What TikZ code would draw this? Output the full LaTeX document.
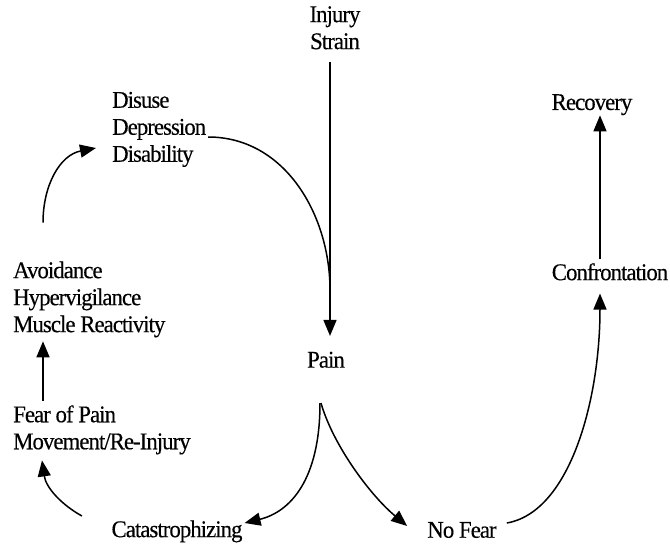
\documentclass[tikz,border=0pt]{standalone}
\usepackage{fontspec}
\setmainfont{Liberation Serif}[FakeStretch=0.95,LetterSpace=-4,FakeBold=0.3]
\usetikzlibrary{arrows.meta}

\begin{document}
\begin{tikzpicture}[x=1pt,y=-1pt,
  lbl/.style={inner sep=0pt, font=\fontsize{24}{27}\selectfont, text=black},
  arr/.style={line width=1.5pt, -{Triangle[length=16pt,width=13pt]}},
  ln/.style={line width=1.5pt}]
\useasboundingbox (0,0) rectangle (670,546);

% labels
\node[lbl, align=center] (inj) at (335,27.8) {Injury\\Strain};
\node[lbl, align=left, anchor=west] (dis) at (112,129.4) {Disuse\\Depression\\Disability};
\node[lbl, align=left, anchor=west] (avo) at (13,299.4) {Avoidance\\Hypervigilance\\Muscle Reactivity};
\node[lbl, align=left, anchor=west] (fear) at (13,429.9) {Fear of Pain\\Movement/Re-Injury};
\node[lbl] (pain) at (326,359.8) {Pain};
\node[lbl] (cat) at (177,531.4) {Catastrophizing};
\node[lbl] (nofear) at (462,530) {No Fear};
\node[lbl] (conf) at (610,271.8) {Confrontation};
\node[lbl] (rec) at (592,104.7) {Recovery};

% point where the disuse loop merges into the injury line
\coordinate (merge) at (330,290);

% injury leads to pain
\draw[arr] ([xshift=-5pt,yshift=-12pt]inj.south) -- ([xshift=4pt,yshift=15.6pt]pain.north);
% disuse loop feeds back into pain
\draw[ln] ([xshift=1.8pt,yshift=-7.6pt]dis.east) .. controls (285,137) and (330,215) .. (merge);

% the two branches out of pain
\draw[arr] ([xshift=-6pt,yshift=-35pt]pain.south) .. controls (320,480) and (290,512) .. ([xshift=1.9pt,yshift=8.4pt]cat.east);
\draw[arr] ([xshift=-5pt,yshift=-35pt]pain.south) .. controls (333,445) and (370,495) .. ([xshift=-20pt,yshift=4pt]nofear.west);

% recovery path
\draw[arr] ([xshift=10pt,yshift=7pt]nofear.east) .. controls (570,512) and (600,400) .. ([xshift=-10pt,yshift=-13pt]conf.south);
\draw[arr] ([xshift=-10pt,yshift=3.6pt]conf.north) -- ([xshift=8pt]rec.south);

% fear-avoidance cycle
\draw[arr] ([xshift=-29.4pt,yshift=15.4pt]cat.west) .. controls (62,505) and (46,488) .. ([xshift=29pt,yshift=-5.8pt]fear.south west);
\draw[arr] ([xshift=30pt,yshift=4.6pt]fear.north west) -- ([xshift=30pt,yshift=-3.8pt]avo.south west);
\draw[arr] ([xshift=30pt,yshift=38.6pt]avo.north west) .. controls (43,185) and (60,155) .. ([xshift=-16pt,yshift=-18.6pt]dis.west);
\end{tikzpicture}
\end{document}
